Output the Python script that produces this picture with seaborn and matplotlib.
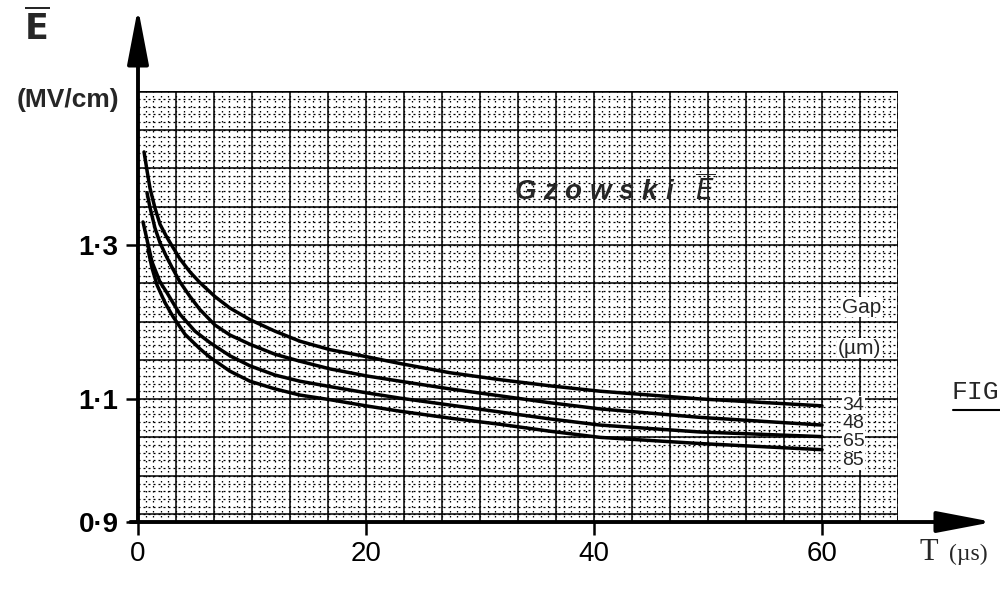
import numpy as np
import pandas as pd
import matplotlib
matplotlib.use("Agg")
import matplotlib.pyplot as plt
import seaborn as sns

# ---------------- data ----------------
gaps = ["34", "48", "65", "85"]

t_34 = [0.53, 0.79, 1.05, 1.49, 1.93, 2.46, 2.98, 3.68, 4.56, 5.44, 6.75, 8.07, 9.82,
        12.02, 14.2, 16.84, 20.0, 22.98, 27.37, 31.75, 36.14, 40.53, 49.3, 60.0]
e_34 = [1.421, 1.397, 1.374, 1.348, 1.327, 1.312, 1.299, 1.282, 1.265, 1.251, 1.233, 1.218, 1.203,
        1.188, 1.175, 1.164, 1.155, 1.146, 1.134, 1.125, 1.117, 1.110, 1.100, 1.091]

t_48 = [0.79, 1.05, 1.49, 1.93, 2.46, 2.98, 3.68, 4.56, 5.44, 6.75, 8.07, 9.82,
        12.02, 14.2, 16.84, 20.0, 22.98, 27.37, 31.75, 36.14, 40.53, 49.3, 60.0]
e_48 = [1.368, 1.349, 1.322, 1.303, 1.286, 1.271, 1.252, 1.233, 1.216, 1.196, 1.183, 1.171,
        1.158, 1.149, 1.139, 1.130, 1.123, 1.113, 1.104, 1.095, 1.087, 1.076, 1.066]

t_65 = [0.44, 0.79, 1.23, 1.93, 2.54, 3.68, 5.0, 6.32, 8.07, 9.82,
        12.02, 14.2, 16.84, 20.0, 22.98, 27.37, 31.75, 36.14, 40.53, 49.3, 60.0]
e_65 = [1.330, 1.307, 1.278, 1.252, 1.238, 1.210, 1.188, 1.173, 1.156, 1.143,
        1.131, 1.123, 1.116, 1.108, 1.101, 1.092, 1.083, 1.074, 1.066, 1.057, 1.051]

t_85 = [0.88, 1.23, 1.67, 2.37, 3.07, 4.12, 5.44, 6.32, 8.07, 9.82,
        12.02, 14.2, 16.84, 20.0, 22.98, 27.37, 31.75, 36.14, 40.53, 49.3, 60.0]
e_85 = [1.294, 1.270, 1.248, 1.225, 1.207, 1.184, 1.165, 1.154, 1.136, 1.123,
        1.113, 1.105, 1.099, 1.091, 1.084, 1.075, 1.067, 1.058, 1.050, 1.042, 1.034]

x_ticks = [0, 20, 40, 60]
x_tick_labels = ["0", "20", "40", "60"]
y_ticks = [0.940, 1.1, 1.3]
y_tick_labels = ["0·9", "1·1", "1·3"]

label_t = 61.8
label_e = [1.092, 1.0675, 1.044, 1.0195]

frames = []
for g, t, e in zip(gaps, [t_34, t_48, t_65, t_85], [e_34, e_48, e_65, e_85]):
    frames.append(pd.DataFrame({"T": t, "E": e, "gap": g}))
df = pd.concat(frames, ignore_index=True)

# ---------------- figure ----------------
sns.set_theme(style="white")
plt.rcParams["font.family"] = ["Liberation Sans", "DejaVu Sans"]

fig = plt.figure(figsize=(10, 6.06), dpi=100)
ax = fig.add_axes([0.138, 0.1386, 0.76, 0.711])

x_max = 66.667
y_min, y_max = 0.940, 1.500
ax.set_xlim(0, x_max)
ax.set_ylim(y_min, y_max)

# graph paper
maj_x = np.arange(0, x_max + 0.01, 10 / 3)
min_x = np.arange(0, x_max + 0.01, 2 / 3)
maj_y = np.arange(0.95, y_max + 0.001, 0.05)
min_y = np.arange(0.94, y_max + 0.001, 0.01)
for v in min_x:
    ax.axvline(v, color="black", lw=0.9, ls=(0, (1.2, 2.8)), zorder=1)
for v in min_y:
    ax.axhline(v, color="black", lw=0.9, ls=(0, (1.6, 2.4)), zorder=1)
for v in maj_x:
    ax.axvline(v, color="black", lw=1.1, zorder=1.5)
for v in maj_y:
    ax.axhline(v, color="black", lw=1.1, zorder=1.5)
ax.axhline(y_max, color="black", lw=1.8, zorder=1.5)
ax.axvline(x_max, color="black", lw=1.1, ls=(0, (4, 2)), zorder=1.5)

sns.lineplot(data=df, x="T", y="E", hue="gap", palette=["black"] * 4,
             lw=2.5, legend=False, ax=ax, zorder=3, sort=False)

for sp in ax.spines.values():
    sp.set_visible(False)
ax.grid(False)

ax.set_xticks(x_ticks)
ax.set_xticklabels(x_tick_labels)
ax.set_yticks(y_ticks)
ax.set_yticklabels(y_tick_labels, fontweight="bold")
ax.tick_params(axis="both", direction="out", length=9, width=1.8,
               colors="black", labelsize=20, pad=5, bottom=True, left=True)
ax.set_xlabel("")
ax.set_ylabel("")

# axes with arrows
arrow_kw = dict(arrowstyle="-|>,head_length=3.4,head_width=0.65", lw=2.8,
                color="black", shrinkA=0, shrinkB=0, mutation_scale=10)
ax.annotate("", xy=(0, 1.193), xytext=(0, 0), xycoords="axes fraction",
            textcoords="axes fraction", arrowprops=arrow_kw, annotation_clip=False)
ax.annotate("", xy=(1.125, 0), xytext=(-0.01, 0), xycoords="axes fraction",
            textcoords="axes fraction", arrowprops=arrow_kw, annotation_clip=False)

# texts
fig.text(0.037, 0.955, r"$\overline{\mathbf{E}}$", fontsize=25, ha="center", va="center")
fig.text(0.068, 0.835, "(MV/cm)", fontsize=19, fontweight="bold",
         ha="center", va="center")
fig.text(0.929, 0.088, "T", fontsize=22, ha="center", va="center",
         family="Liberation Serif")
fig.text(0.968, 0.085, "(µs)", fontsize=17, ha="center", va="center",
         family="Liberation Serif")
fig.text(0.999, 0.353, "FIG", fontsize=19, ha="right", va="center",
         family="Liberation Mono")
fig.add_artist(plt.Line2D([0.953, 1.0], [0.324, 0.324], color="black", lw=1.5))

ax.text(41.8, 1.371, "G z o w s k i   " + r"$\overline{E}$", fontsize=20,
        style="italic", fontweight="bold", ha="center", va="center", zorder=4)
ax.text(63.5, 1.219, "Gap", fontsize=15, ha="center", va="center", zorder=4,
        bbox=dict(facecolor="white", edgecolor="none", pad=0.5))
ax.text(63.3, 1.166, "(µm)", fontsize=15, ha="center", va="center", zorder=4,
        bbox=dict(facecolor="white", edgecolor="none", pad=0.5))
for g, ye in zip(gaps, label_e):
    ax.text(label_t, ye, g, fontsize=14, ha="left", va="center", zorder=4,
            bbox=dict(facecolor="white", edgecolor="none", pad=0.3))

fig.savefig("out.png", dpi=100)
